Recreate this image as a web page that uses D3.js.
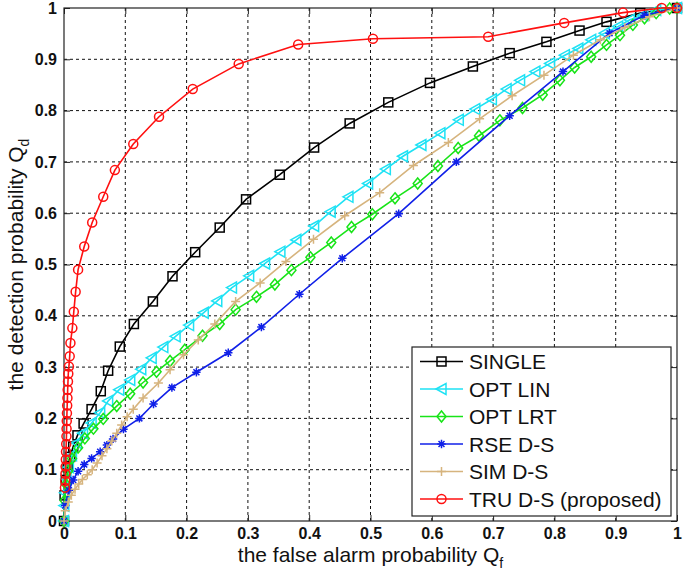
<!DOCTYPE html>
<html>
<head>
<meta charset="utf-8">
<script src="https://cdn.jsdelivr.net/npm/d3@7"></script>
<style>
  html, body { margin: 0; padding: 0; background: #fff; }
  svg { display: block; }
  text { font-family: Arial, "Liberation Sans", Helvetica, sans-serif; }
</style>
</head>
<body>
<svg id="chart" width="685" height="576"></svg>
<script>
// ---------- data (Qf, Qd) ----------
const tickValues = [0, 0.1, 0.2, 0.3, 0.4, 0.5, 0.6, 0.7, 0.8, 0.9, 1];
const tickLabels = ["0", "0.1", "0.2", "0.3", "0.4", "0.5", "0.6", "0.7", "0.8", "0.9", "1"];
const seriesNames = ["SINGLE", "OPT LIN", "OPT LRT", "RSE D-S", "SIM D-S", "TRU D-S (proposed)"];

const SINGLE = [[0,0],[0.001,0.05],[0.003,0.08],[0.006,0.105],[0.01,0.125],[0.015,0.145],[0.022,0.167],[0.032,0.19],[0.045,0.218],[0.06,0.253],[0.072,0.293],[0.091,0.34],[0.114,0.384],[0.145,0.428],[0.177,0.477],[0.214,0.524],[0.254,0.572],[0.297,0.627],[0.352,0.675],[0.408,0.728],[0.466,0.775],[0.529,0.816],[0.597,0.854],[0.667,0.886],[0.727,0.912],[0.787,0.934],[0.841,0.956],[0.885,0.973],[0.94,0.99],[1,1]];

const OPT_LIN = [[0,0],[0.0005,0.03],[0.0015,0.055],[0.004,0.082],[0.008,0.105],[0.013,0.128],[0.021,0.152],[0.031,0.171],[0.045,0.191],[0.059,0.211],[0.072,0.234],[0.09,0.256],[0.108,0.275],[0.126,0.296],[0.143,0.318],[0.162,0.339],[0.182,0.36],[0.204,0.382],[0.228,0.406],[0.25,0.429],[0.274,0.455],[0.302,0.478],[0.328,0.502],[0.353,0.525],[0.379,0.548],[0.408,0.575],[0.435,0.603],[0.464,0.632],[0.496,0.658],[0.525,0.686],[0.553,0.711],[0.583,0.733],[0.614,0.756],[0.644,0.782],[0.671,0.803],[0.698,0.822],[0.722,0.842],[0.744,0.859],[0.769,0.876],[0.793,0.892],[0.817,0.908],[0.839,0.921],[0.86,0.938],[0.882,0.951],[0.904,0.964],[0.923,0.977],[0.945,0.986],[0.966,0.996],[1,1]];

const OPT_LRT = [[0,0],[0.001,0.04],[0.003,0.072],[0.007,0.098],[0.013,0.122],[0.023,0.143],[0.034,0.161],[0.048,0.18],[0.064,0.199],[0.086,0.224],[0.108,0.248],[0.129,0.27],[0.151,0.291],[0.173,0.312],[0.197,0.334],[0.226,0.361],[0.254,0.384],[0.28,0.412],[0.314,0.437],[0.344,0.461],[0.371,0.489],[0.402,0.514],[0.436,0.543],[0.469,0.573],[0.503,0.598],[0.54,0.629],[0.577,0.658],[0.61,0.692],[0.643,0.727],[0.677,0.751],[0.711,0.781],[0.748,0.805],[0.781,0.831],[0.809,0.859],[0.833,0.884],[0.86,0.905],[0.885,0.928],[0.907,0.947],[0.928,0.967],[0.947,0.98],[0.966,0.99],[0.988,0.999],[1,1]];

const RSE_DS = [[0,0],[0.002,0.03],[0.008,0.06],[0.015,0.08],[0.023,0.097],[0.033,0.11],[0.045,0.122],[0.059,0.135],[0.07,0.148],[0.08,0.16],[0.097,0.179],[0.123,0.2],[0.146,0.228],[0.176,0.26],[0.216,0.29],[0.268,0.328],[0.322,0.378],[0.384,0.442],[0.454,0.512],[0.546,0.599],[0.64,0.7],[0.727,0.79],[0.814,0.876],[0.89,0.951],[0.947,0.986],[1,1]];

const SIM_DS = [[0,0],[0.002,0.02],[0.007,0.037],[0.012,0.05],[0.018,0.062],[0.024,0.072],[0.03,0.081],[0.038,0.09],[0.046,0.1],[0.054,0.113],[0.062,0.127],[0.07,0.141],[0.078,0.156],[0.086,0.171],[0.094,0.187],[0.103,0.203],[0.113,0.218],[0.129,0.24],[0.154,0.269],[0.173,0.295],[0.195,0.324],[0.219,0.353],[0.246,0.384],[0.28,0.428],[0.32,0.464],[0.362,0.506],[0.407,0.549],[0.458,0.595],[0.515,0.64],[0.57,0.693],[0.627,0.738],[0.678,0.784],[0.731,0.829],[0.783,0.869],[0.831,0.908],[0.875,0.938],[0.915,0.962],[0.955,0.983],[1,1]];

const TRU_DS = [[0.0015,0.065],[0.002,0.078],[0.0024,0.092],[0.0027,0.106],[0.003,0.12],[0.0033,0.135],[0.0036,0.15],[0.004,0.165],[0.0042,0.18],[0.0045,0.195],[0.0048,0.21],[0.0052,0.225],[0.0056,0.24],[0.006,0.256],[0.0065,0.272],[0.007,0.287],[0.008,0.301],[0.0093,0.321],[0.0105,0.347],[0.0136,0.376],[0.016,0.408],[0.019,0.447],[0.023,0.49],[0.033,0.535],[0.046,0.582],[0.064,0.632],[0.083,0.684],[0.113,0.735],[0.155,0.788],[0.21,0.842],[0.285,0.891],[0.382,0.929],[0.504,0.94],[0.692,0.944],[0.816,0.971],[0.912,0.991],[0.975,1],[1,1]];

const seriesData = [SINGLE, OPT_LIN, OPT_LRT, RSE_DS, SIM_DS, TRU_DS];
const seriesColors = ["#000000", "#1ee2f4", "#18e418", "#1020e8", "#d6b47e", "#ff1010"];
const seriesMarkers = ["square", "triLeft", "diamond", "star", "plus", "circle"];

// ---------- layout ----------
const svg = d3.select("#chart");
const L = 64, R = 677, T = 8, B = 521;
const x = d3.scaleLinear().domain([0, 1]).range([L, R]);
const y = d3.scaleLinear().domain([0, 1]).range([B, T]);

// grid
const grid = svg.append("g");
tickValues.slice(1, -1).forEach(v => {
  grid.append("line").attr("x1", x(v)).attr("x2", x(v)).attr("y1", T).attr("y2", B)
    .attr("stroke", "#111").attr("stroke-width", 1).attr("stroke-dasharray", "3,3");
  grid.append("line").attr("x1", L).attr("x2", R).attr("y1", y(v)).attr("y2", y(v))
    .attr("stroke", "#111").attr("stroke-width", 1).attr("stroke-dasharray", "3,3");
});

// axes
const fmt = d => tickLabels[tickValues.indexOf(d)];
function styleAxis(g, hideText) {
  g.select(".domain").remove();
  g.selectAll(".tick line").attr("stroke", "#222");
  g.selectAll(".tick text").attr("font-size", 16).attr("font-weight", "bold").attr("fill", "#111")
    .style("font-family", "Arial, 'Liberation Sans', sans-serif");
  if (hideText) g.selectAll(".tick text").remove();
}
svg.append("g").attr("transform", `translate(0,${B})`)
  .call(d3.axisBottom(x).tickValues(tickValues).tickFormat(fmt).tickSize(-6).tickPadding(7))
  .call(g => styleAxis(g, false));
svg.append("g").attr("transform", `translate(0,${T})`)
  .call(d3.axisTop(x).tickValues(tickValues).tickFormat(fmt).tickSize(-6))
  .call(g => styleAxis(g, true));
svg.append("g").attr("transform", `translate(${L},0)`)
  .call(d3.axisLeft(y).tickValues(tickValues).tickFormat(fmt).tickSize(-6).tickPadding(7))
  .call(g => styleAxis(g, false));
svg.append("g").attr("transform", `translate(${R},0)`)
  .call(d3.axisRight(y).tickValues(tickValues).tickFormat(fmt).tickSize(-6))
  .call(g => styleAxis(g, true));

// frame
svg.append("rect").attr("x", L).attr("y", T).attr("width", R - L).attr("height", B - T)
  .attr("fill", "none").attr("stroke", "#222").attr("stroke-width", 1.2);

// markers
function drawMarker(g, type, cx, cy, color) {
  const sw = 1.5;
  if (type === "square") {
    g.append("rect").attr("x", cx - 4.5).attr("y", cy - 4.5).attr("width", 9).attr("height", 9)
      .attr("fill", "none").attr("stroke", color).attr("stroke-width", sw);
  } else if (type === "circle") {
    g.append("circle").attr("cx", cx).attr("cy", cy).attr("r", 4.5)
      .attr("fill", "none").attr("stroke", color).attr("stroke-width", sw);
  } else if (type === "diamond") {
    g.append("path").attr("d", `M${cx},${cy - 5.5}L${cx + 4.5},${cy}L${cx},${cy + 5.5}L${cx - 4.5},${cy}Z`)
      .attr("fill", "none").attr("stroke", color).attr("stroke-width", sw);
  } else if (type === "triLeft") {
    g.append("path").attr("d", `M${cx - 5.5},${cy}L${cx + 4.5},${cy - 5.5}L${cx + 4.5},${cy + 5.5}Z`)
      .attr("fill", "none").attr("stroke", color).attr("stroke-width", sw);
  } else if (type === "plus") {
    g.append("path").attr("d", `M${cx - 4.5},${cy}L${cx + 4.5},${cy}M${cx},${cy - 4.5}L${cx},${cy + 4.5}`)
      .attr("fill", "none").attr("stroke", color).attr("stroke-width", sw);
  } else if (type === "star") {
    const r = 4.2;
    let d = "";
    for (let k = 0; k < 4; k++) {
      const a = k * Math.PI / 4;
      d += `M${cx - r * Math.cos(a)},${cy - r * Math.sin(a)}L${cx + r * Math.cos(a)},${cy + r * Math.sin(a)}`;
    }
    g.append("path").attr("d", d).attr("fill", "none").attr("stroke", color).attr("stroke-width", sw);
  }
}

// series
const line = d3.line().x(d => x(d[0])).y(d => y(d[1]));
seriesData.forEach((data, i) => {
  const g = svg.append("g");
  g.append("path").datum(data).attr("d", line).attr("fill", "none")
    .attr("stroke", seriesColors[i]).attr("stroke-width", 1.6);
  data.forEach(d => drawMarker(g, seriesMarkers[i], x(d[0]), y(d[1]), seriesColors[i]));
});

// legend
const lg = svg.append("g");
lg.append("rect").attr("x", 412).attr("y", 347).attr("width", 259).attr("height", 169)
  .attr("fill", "#fff").attr("stroke", "#222").attr("stroke-width", 1.2);
seriesNames.forEach((name, i) => {
  const cy = 361.5 + i * 27.5;
  lg.append("line").attr("x1", 420).attr("x2", 463).attr("y1", cy).attr("y2", cy)
    .attr("stroke", seriesColors[i]).attr("stroke-width", 1.6);
  drawMarker(lg, seriesMarkers[i], 441.5, cy, seriesColors[i]);
  lg.append("text").attr("x", 469).attr("y", cy).attr("dy", "0.36em")
    .attr("font-size", 21).attr("fill", "#111").text(name);
});

// axis labels
const xl = svg.append("text").attr("x", (L + R) / 2).attr("y", 562).attr("text-anchor", "middle")
  .attr("font-size", 21).attr("fill", "#111");
xl.append("tspan").text("the false alarm probability Q");
xl.append("tspan").attr("font-size", 14).attr("dy", 6).text("f");

const yl = svg.append("text").attr("transform", `translate(23,${(T + B) / 2}) rotate(-90)`)
  .attr("text-anchor", "middle").attr("font-size", 21).attr("fill", "#111");
yl.append("tspan").text("the detection probability Q");
yl.append("tspan").attr("font-size", 14).attr("dy", 6).text("d");
</script>
</body>
</html>
